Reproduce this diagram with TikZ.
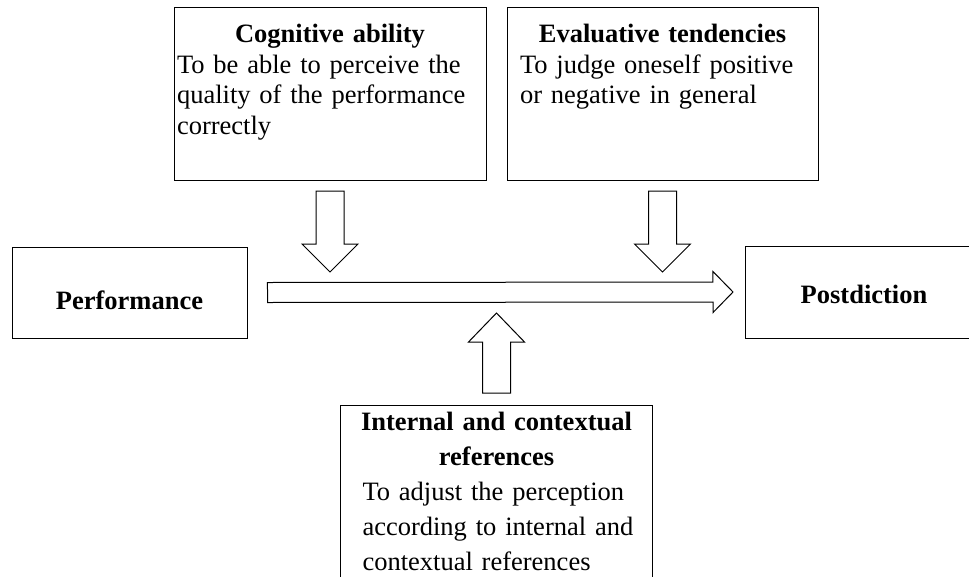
\documentclass[tikz,border=0pt]{standalone}
\usepackage{fontspec}
\setmainfont{Liberation Serif}
\usetikzlibrary{calc}

% block arrow: from, to, half shaft width, half head width, head length
\newcommand{\fatarrow}[5]{%
  \coordinate (hb) at ($(#2)!#5!(#1)$);
  \draw[fatarrow] ($(#1)!#3!90:(#2)$) -- ($(hb)!#3!90:(#2)$) -- ($(hb)!#4!90:(#2)$) -- (#2)
    -- ($(hb)!#4!-90:(#2)$) -- ($(hb)!#3!-90:(#2)$) -- ($(#1)!#3!-90:(#2)$) -- cycle;
}

\tikzset{
  box/.style={draw, rectangle, line width=1pt, inner ysep=0pt, font=\fontsize{26.5}{30.5}\selectfont},
  fatarrow/.style={draw, line width=1pt, line join=miter, fill=white},
}

\begin{document}
\begin{tikzpicture}[x=1pt, y=-1pt]
    \useasboundingbox (0,0) rectangle (969,576);

    % start and result
    \node [box, minimum width=235pt, minimum height=91pt, text height=34pt, text depth=0pt] (perf) at (129.5,292.5) {\textbf{Performance}};
    \node [box, minimum width=237pt, minimum height=92pt, text height=22pt, text depth=0pt, anchor=west] (post) at (745,292) {\textbf{Postdiction}};

    % influences
    \node [box, anchor=north, inner xsep=3pt, text width=306pt, text height=35pt, text depth=138pt] (cog) at (330,7)
        {\centering\textbf{Cognitive ability}\par\raggedright To be able to perceive the\\ quality of the performance\\ correctly};
    \node [box, anchor=north, inner xsep=13pt, text width=285pt, text height=35pt, text depth=138pt] (eval) at (662.5,7)
        {\centering\textbf{Evaluative tendencies}\par\raggedright To judge oneself positive\\ or negative in general};
    \node [box, anchor=north, inner xsep=6pt, text width=300pt, text height=25pt, text depth=200pt,
           font=\fontsize{26.5}{35}\selectfont] (ref) at (496.5,405)
        {\centering\textbf{Internal and contextual\\ references}\par\raggedright\leftskip=16pt To adjust the perception\\ according to internal and\\ contextual references\par};

    % arrows
    \coordinate (perfout) at ($(perf.east)+(20,0)$);
    \coordinate (postin) at ($(post.west)+(-12,0)$);
    \fatarrow{perfout}{postin}{10pt}{20.5pt}{20pt}

    \coordinate (cogout) at ($(cog.south)+(0,10)$);
    \coordinate (cogin) at ($(cog.south)+(0,91)$);
    \fatarrow{cogout}{cogin}{14pt}{28pt}{28pt}

    \coordinate (evalout) at ($(eval.south)+(0,10)$);
    \coordinate (evalin) at ($(eval.south)+(0,91)$);
    \fatarrow{evalout}{evalin}{14pt}{28pt}{28pt}

    \coordinate (refout) at ($(ref.north)+(0,-12)$);
    \coordinate (refin) at ($(ref.north)+(0,-92)$);
    \fatarrow{refout}{refin}{14pt}{28pt}{29pt}
\end{tikzpicture}
\end{document}
